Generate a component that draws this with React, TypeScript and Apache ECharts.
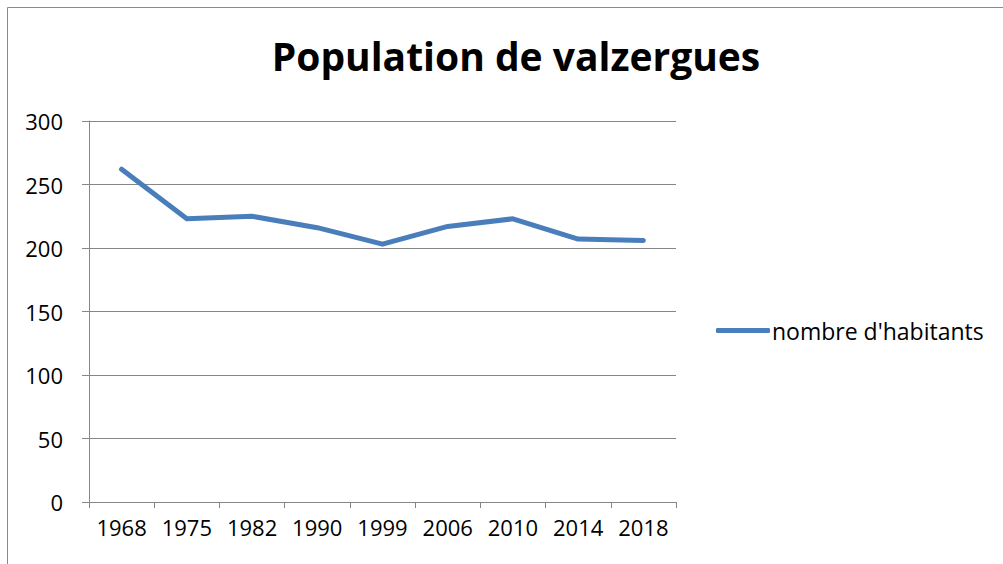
import React, { useEffect, useRef } from "react";
import * as echarts from "echarts";

const titleText = "Population de valzergues";
const seriesName = "nombre d'habitants";
const years = ["1968", "1975", "1982", "1990", "1999", "2006", "2010", "2014", "2018"];
const population = [262, 223, 225, 216, 203, 217, 223, 207, 206];
const yMin = 0;
const yMax = 300;
const yStep = 50;

const FONT = "'Open Sans', sans-serif";

export default function App() {
  const ref = useRef<HTMLDivElement>(null);
  useEffect(() => {
    if (!ref.current) return;
    const chart = echarts.init(ref.current, undefined, { renderer: "svg" });
    chart.setOption({
      animation: false,
      backgroundColor: "#ffffff",
      title: {
        text: titleText,
        left: 511,
        top: 31,
        textAlign: "center",
        textStyle: { fontFamily: FONT, fontSize: 39, fontWeight: "bold", color: "#000" },
      },
      graphic: [
        {
          type: "rect",
          shape: { x: 7.5, y: 7.5, width: 1200, height: 800 },
          style: { fill: "none", stroke: "#8a8a8a", lineWidth: 1 },
          silent: true,
        },
      ],
      legend: {
        data: [{ name: seriesName, icon: "roundRect" }],
        left: 711,
        top: 314,
        itemWidth: 54,
        itemHeight: 5,
        textStyle: { fontFamily: FONT, fontSize: 23, color: "#000", padding: [0, 0, 0, -3] },
      },
      grid: { left: 89, right: 327, top: 121, bottom: 62, containLabel: false },
      xAxis: {
        type: "category",
        data: years,
        boundaryGap: true,
        axisLine: { lineStyle: { color: "#868686", width: 1 } },
        axisTick: { show: true, length: 6, interval: 0, lineStyle: { color: "#868686" } },
        axisLabel: { fontFamily: FONT, fontSize: 22, color: "#000", margin: 14, interval: 0 },
        splitLine: { show: false },
      },
      yAxis: {
        type: "value",
        min: yMin,
        max: yMax,
        interval: yStep,
        axisLine: { show: true, lineStyle: { color: "#868686", width: 1 } },
        axisTick: { show: true, length: 7, lineStyle: { color: "#868686" } },
        axisLabel: { fontFamily: FONT, fontSize: 22, color: "#000", margin: 26 },
        splitLine: { show: true, lineStyle: { color: "#868686", width: 1 } },
      },
      series: [
        {
          name: seriesName,
          type: "line",
          data: population,
          showSymbol: false,
          symbol: "none",
          lineStyle: { color: "#4a7ebb", width: 5, cap: "round", join: "round" },
          itemStyle: { color: "#4a7ebb" },
        },
      ],
    });
    return () => chart.dispose();
  }, []);
  return (
    <div
      ref={ref}
      style={{ position: "fixed", left: 0, top: 0, width: 1003, height: 564 }}
    />
  );
}
